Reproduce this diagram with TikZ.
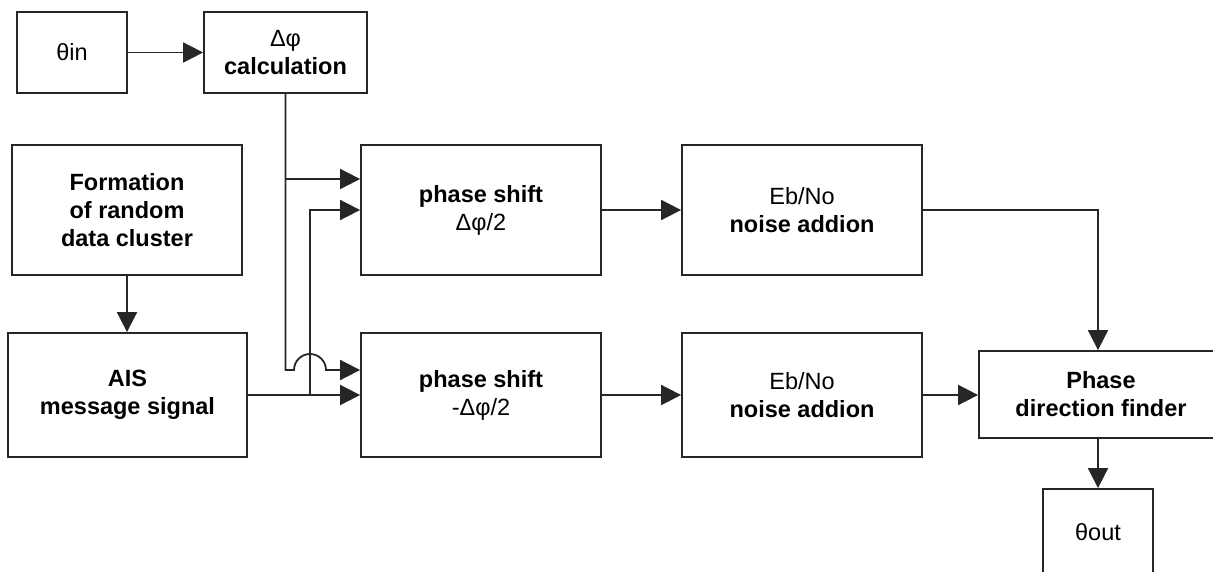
\documentclass[tikz,border=0pt]{standalone}
\usepackage{fontspec}
\setmainfont{Liberation Sans}
\usetikzlibrary{arrows.meta}
\tikzset{
  blk/.style={draw=black!85, line width=1.8pt, inner sep=0pt, align=center,
    font=\fontsize{23.5}{28}\selectfont},
  conn/.style={line width=1.8pt, draw=black!85},
  arr/.style={conn, -{Triangle[length=20pt,width=20pt]}},
}
\begin{document}
\begin{tikzpicture}[x=1pt,y=-1pt]
\useasboundingbox (0,0) rectangle (1213,572);
\clip (0,0) rectangle (1213,572);
\fill[white] (0,0) rectangle (1213,572);

\node[blk, minimum width=110pt, minimum height=81pt] (thin) at (72,52.5) {θin};
\node[blk, minimum width=163pt, minimum height=81pt] (dphi) at (285.5,52.5) {Δφ\\\textbf{calculation}};
\node[blk, minimum width=230pt, minimum height=130pt] (form) at (127,210) {\textbf{Formation}\\\textbf{of random}\\\textbf{data cluster}};
\node[blk, minimum width=239pt, minimum height=124pt] (ais) at (127.5,395) {\textbf{AIS}\\\textbf{message signal}};
\node[blk, minimum width=240pt, minimum height=130pt] (ps1) at (481,210) {\textbf{phase shift}\\Δφ/2};
\node[blk, minimum width=240pt, minimum height=124pt] (ps2) at (481,395) {\textbf{phase shift}\\-Δφ/2};
\node[blk, minimum width=240pt, minimum height=130pt] (eb1) at (802,210) {Eb/No\\\textbf{noise addion}};
\node[blk, minimum width=240pt, minimum height=124pt] (eb2) at (802,395) {Eb/No\\\textbf{noise addion}};
\node[blk, minimum width=244pt, minimum height=87pt] (pdf) at (1101,394.5) {\textbf{Phase}\\\textbf{direction finder}};
\node[blk, minimum width=110pt, minimum height=86pt] (thout) at (1098,532) {θout};

\coordinate (y179) at (0,179);
\coordinate (y370) at (0,370);
\coordinate (j1) at (dphi.south |- y179);
\coordinate (j3) at (dphi.south |- y370);
\coordinate (j2) at (310,395);
\coordinate (j2t) at (310,210);
\coordinate (c1) at (1098,210);

\draw[arr] (thin) -- (dphi);
\draw[arr] (dphi.south) -- (j3) -- ++(8.5,0) arc[start angle=180,end angle=0,radius=16pt] -- (ps2.west |- y370);
\draw[arr] (j1) -- (ps1.west |- y179);
\draw[arr] (j2) -- (j2t) -- (ps1.west);
\draw[arr] (form.south) -- (form.south |- ais.north);
\draw[arr] (ais) -- (ps2);
\draw[arr] (ps1) -- (eb1);
\draw[arr] (ps2) -- (eb2);
\draw[arr] (eb1.east) -- (c1) -- (c1 |- pdf.north);
\draw[arr] (eb2.east) -- (eb2.east -| pdf.west);
\draw[arr] (c1 |- pdf.south) -- (thout.north);
\end{tikzpicture}
\end{document}
